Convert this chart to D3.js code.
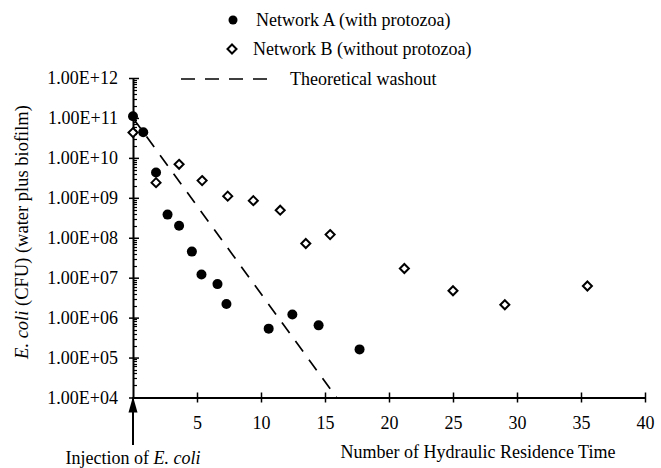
<!DOCTYPE html>
<html>
<head>
<meta charset="utf-8">
<script src="https://cdn.jsdelivr.net/npm/d3@7"></script>
<style>
  body { margin: 0; background: #fff; }
  text { font-family: "Liberation Serif", "Times New Roman", serif; fill: #000; }
</style>
</head>
<body>
<svg width="661" height="468"></svg>
<script>
// values
var xTicks = [5, 10, 15, 20, 25, 30, 35, 40];
var yTicks = [1e4, 1e5, 1e6, 1e7, 1e8, 1e9, 1e10, 1e11, 1e12];

var aHrt = [0, 0.8, 1.8, 2.7, 3.6, 4.6, 5.35, 6.6, 7.3, 10.6, 12.45, 14.5, 17.7];
var aCfu = [1.1e11, 4.4e10, 4.3e9, 3.8e8, 2.0e8, 4.5e7, 1.2e7, 6.9e6, 2.2e6, 5.3e5, 1.2e6, 6.4e5, 1.6e5];

var bHrt = [0, 1.8, 3.6, 5.4, 7.4, 9.4, 11.5, 13.5, 15.4, 21.2, 25.0, 29.05, 35.5];
var bCfu = [4.3e10, 2.4e9, 6.9e9, 2.7e9, 1.1e9, 8.5e8, 4.9e8, 7.2e7, 1.2e8, 1.7e7, 4.7e6, 2.1e6, 6.2e6];

var washHrt = [0, 15.9];
var washCfu = [1.0e11, 1.0e4];

function main() {
	var svg = d3.select('svg');

	var x = d3.scaleLinear().domain([0, 40]).range([133, 645]);
	var y = d3.scaleLog().domain([1e4, 1e12]).range([397.5, 78]);

	function fmt(d) {
		var e = Math.round(Math.log10(d));
		return '1.00E+' + (e < 10 ? '0' + e : e);
	}

	// x axis
	var gx = svg.append('g')
		.attr('transform', 'translate(0,' + y(1e4) + ')')
		.call(d3.axisBottom(x).tickValues(xTicks).tickSize(5).tickPadding(14).tickSizeOuter(0));
	gx.select('.domain').attr('stroke', '#000').attr('stroke-width', 2);
	gx.selectAll('.tick line').attr('y1', -5).attr('y2', 5).attr('stroke-width', 1.5);
	gx.selectAll('.tick text').attr('font-size', 18).attr('font-family', 'Liberation Serif');

	// y axis
	var gy = svg.append('g')
		.attr('transform', 'translate(' + x(0) + ',0)')
		.call(d3.axisLeft(y).tickValues(yTicks).tickFormat(fmt).tickSize(4).tickPadding(11).tickSizeOuter(0));
	gy.select('.domain').attr('stroke', '#000').attr('stroke-width', 2);
	gy.selectAll('.tick line').attr('x1', -4).attr('x2', 6).attr('stroke-width', 1.5);
	gy.selectAll('.tick text').attr('font-size', 18).attr('font-family', 'Liberation Serif');

	// minor log ticks
	var minor = [];
	for (var k = 4; k < 12; k++) {
		for (var m = 2; m <= 9; m++) minor.push(m * Math.pow(10, k));
	}
	gy.selectAll('.minor').data(minor).enter().append('line')
		.attr('class', 'minor')
		.attr('x1', 0).attr('x2', 4)
		.attr('y1', function(d) { return Math.round(y(d)) + 0.5; })
		.attr('y2', function(d) { return Math.round(y(d)) + 0.5; })
		.attr('stroke', '#000').attr('stroke-width', 1.2);

	// injection arrow below the origin
	svg.append('line')
		.attr('x1', x(0)).attr('x2', x(0))
		.attr('y1', y(1e4)).attr('y2', 445)
		.attr('stroke', '#000').attr('stroke-width', 2);
	svg.append('path')
		.attr('d', 'M' + x(0) + ',' + (y(1e4) - 1) + 'l-4.5,16h9z')
		.attr('fill', '#000');

	// theoretical washout
	var line = d3.line()
		.x(function(d) { return x(d[0]); })
		.y(function(d) { return y(d[1]); });
	svg.append('path')
		.attr('d', line(d3.zip(washHrt, washCfu)))
		.attr('fill', 'none').attr('stroke', '#000')
		.attr('stroke-width', 1.7).attr('stroke-dasharray', '13,10');

	// network B diamonds
	var diamond = d3.symbol().type(d3.symbolDiamond2).size(52);
	svg.selectAll('.b').data(d3.zip(bHrt, bCfu)).enter().append('path')
		.attr('class', 'b')
		.attr('d', diamond)
		.attr('transform', function(d) { return 'translate(' + x(d[0]) + ',' + y(d[1]) + ')'; })
		.attr('fill', '#fff').attr('stroke', '#000').attr('stroke-width', 2);

	// network A dots
	svg.selectAll('.a').data(d3.zip(aHrt, aCfu)).enter().append('circle')
		.attr('class', 'a')
		.attr('cx', function(d) { return x(d[0]); })
		.attr('cy', function(d) { return y(d[1]); })
		.attr('r', 5)
		.attr('fill', '#000');

	// axis titles
	svg.append('text')
		.attr('x', 478).attr('y', 458)
		.attr('text-anchor', 'middle').attr('font-size', 18)
		.text('Number of Hydraulic Residence Time');

	var inj = svg.append('text')
		.attr('x', x(0)).attr('y', 464)
		.attr('text-anchor', 'middle').attr('font-size', 18);
	inj.append('tspan').text('Injection of ');
	inj.append('tspan').attr('font-style', 'italic').text('E. coli');

	var yl = svg.append('text')
		.attr('transform', 'translate(28,232) rotate(-90)')
		.attr('text-anchor', 'middle').attr('font-size', 18.5);
	yl.append('tspan').attr('font-style', 'italic').text('E. coli');
	yl.append('tspan').text(' (CFU) (water plus biofilm)');

	// legend
	var leg = svg.append('g');
	leg.append('circle').attr('cx', 233).attr('cy', 20).attr('r', 4.5).attr('fill', '#000');
	leg.append('text').attr('x', 256).attr('y', 26).attr('font-size', 18).text('Network A (with protozoa)');
	leg.append('path').attr('d', diamond).attr('transform', 'translate(232,49)')
		.attr('fill', '#fff').attr('stroke', '#000').attr('stroke-width', 2);
	leg.append('text').attr('x', 253).attr('y', 55).attr('font-size', 18).text('Network B (without protozoa)');
	leg.append('line').attr('x1', 181).attr('x2', 268).attr('y1', 79).attr('y2', 79)
		.attr('stroke', '#000').attr('stroke-width', 1.7).attr('stroke-dasharray', '14,10');
	leg.append('text').attr('x', 290).attr('y', 85).attr('font-size', 18).text('Theoretical washout');
}
main();
</script>
</body>
</html>
